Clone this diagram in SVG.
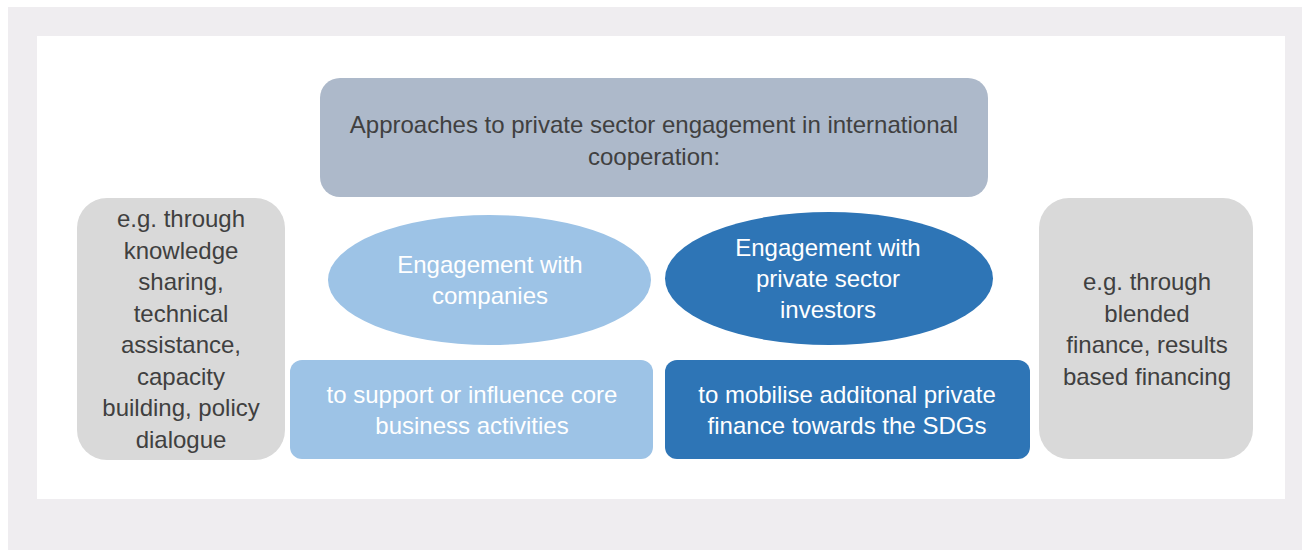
<svg xmlns="http://www.w3.org/2000/svg" width="1302" height="550" viewBox="0 0 1302 550">
  <style>
    text { font-family: "Liberation Sans", Arial, sans-serif; font-size: 24px; text-anchor: middle; }
    .dark { fill: #404040; }
    .light { fill: #ffffff; }
    .grey { fill: #d9d9d9; }
    .title { fill: #adb9ca; }
    .pale { fill: #9dc3e6; }
    .deep { fill: #2e75b6; }
  </style>

  <!-- frame -->
  <rect x="8" y="7" width="1294" height="543" fill="#efedf0"/>
  <rect x="37" y="36" width="1248" height="463" fill="#ffffff"/>

  <g id="connectors"></g>

  <g id="title-box">
    <rect class="title" x="320" y="78" width="668" height="119" rx="20"/>
    <text class="dark" x="654" y="133">Approaches to private sector engagement in international</text>
    <text class="dark" x="654" y="165">cooperation:</text>
  </g>

  <g id="left-examples">
    <rect class="grey" x="77" y="198" width="208" height="262" rx="30"/>
    <text class="dark" x="181" y="227">e.g. through</text>
    <text class="dark" x="181" y="258.5">knowledge</text>
    <text class="dark" x="181" y="290">sharing,</text>
    <text class="dark" x="181" y="321.5">technical</text>
    <text class="dark" x="181" y="353">assistance,</text>
    <text class="dark" x="181" y="384.5">capacity</text>
    <text class="dark" x="181" y="416">building, policy</text>
    <text class="dark" x="181" y="447.5">dialogue</text>
  </g>

  <g id="companies">
    <ellipse class="pale" cx="489.5" cy="280" rx="161.5" ry="65"/>
    <text class="light" x="490" y="273">Engagement with</text>
    <text class="light" x="490" y="304">companies</text>
  </g>

  <g id="investors">
    <ellipse class="deep" cx="829" cy="278.5" rx="164" ry="66.5"/>
    <text class="light" x="828" y="256">Engagement with</text>
    <text class="light" x="828" y="287">private sector</text>
    <text class="light" x="828" y="318">investors</text>
  </g>

  <g id="core-business">
    <rect class="pale" x="290" y="360" width="363" height="99" rx="12"/>
    <text class="light" x="472" y="403">to support or influence core</text>
    <text class="light" x="472" y="434">business activities</text>
  </g>

  <g id="mobilise-finance">
    <rect class="deep" x="665" y="360" width="365" height="99" rx="12"/>
    <text class="light" x="847" y="403">to mobilise additonal private</text>
    <text class="light" x="847" y="434">finance towards the SDGs</text>
  </g>

  <g id="right-examples">
    <rect class="grey" x="1039" y="198" width="214" height="261" rx="30"/>
    <text class="dark" x="1147" y="290">e.g. through</text>
    <text class="dark" x="1147" y="322">blended</text>
    <text class="dark" x="1147" y="353">finance, results</text>
    <text class="dark" x="1147" y="385">based financing</text>
  </g>
</svg>
